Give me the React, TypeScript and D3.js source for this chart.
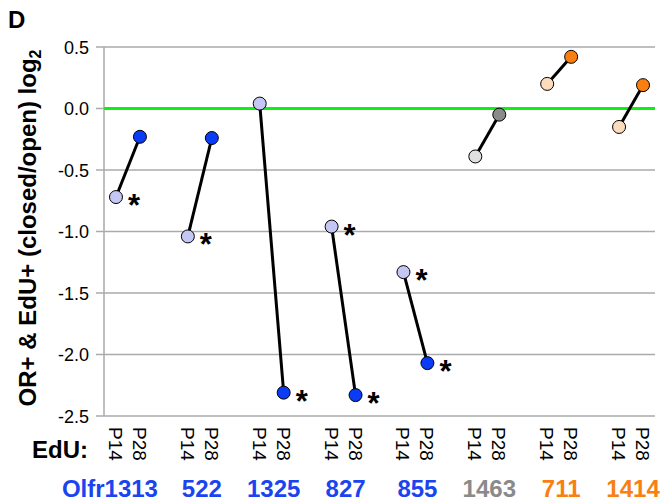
import React from "react";
import * as d3 from "d3";

const groups = ["Olfr1313", "522", "1325", "827", "855", "1463", "711", "1414"];
const p14Values = [-0.72, -1.04, 0.04, -0.96, -1.33, -0.39, 0.20, -0.15];
const p28Values = [-0.23, -0.24, -2.31, -2.33, -2.07, -0.05, 0.42, 0.19];
const starP14 = [true, true, false, true, true, false, false, false];
const starP28 = [false, false, true, true, true, false, false, false];
const groupColor = ["blue", "blue", "blue", "blue", "blue", "gray", "orange", "orange"];
const yTicks = [0.5, 0.0, -0.5, -1.0, -1.5, -2.0, -2.5];
const timeLabels = ["P14", "P28"];

const palette: Record<string, { p14: string; p28: string; label: string }> = {
  blue: { p14: "#c4c6f4", p28: "#0a3cf5", label: "#1a44f0" },
  gray: { p14: "#e0e0e0", p28: "#8a8a8a", label: "#8a8a8a" },
  orange: { p14: "#fddcbc", p28: "#f97f12", label: "#f97f12" },
};

const W = 661, H = 502;
const left = 104, right = 655, top = 47, bottom = 416;

export default function App() {
  const y = d3.scaleLinear().domain([-2.5, 0.5]).range([bottom, top]);
  const slots = d3.range(23).map(String);
  const x = d3.scaleBand().domain(slots).range([left, right]).paddingInner(0).paddingOuter(0);
  const cx = (g: number, t: number) => (x(String(g * 3 + t)) as number) + x.bandwidth() / 2;
  const font = "'Liberation Sans', Arial, sans-serif";
  return (
    <svg width={W} height={H} style={{ position: "absolute", left: 0, top: 0 }} fontFamily={font}>
      <rect width={W} height={H} fill="#fff" />
      <text x={8} y={28} fontSize={24} fontWeight="bold">D</text>
      {yTicks.map((t) => (
        <g key={t}>
          <line x1={left - 8} x2={right} y1={y(t)} y2={y(t)} stroke="#aaa" strokeWidth={1.5} />
          <text x={89} y={y(t) + 6.5} fontSize={18} textAnchor="end">{t.toFixed(1)}</text>
        </g>
      ))}
      <line x1={left} x2={left} y1={top} y2={bottom} stroke="#aaa" strokeWidth={1.5} />
      <line x1={left} x2={right} y1={y(0)} y2={y(0)} stroke="#11ee11" strokeWidth={3} />
      <text transform={`translate(36,228) rotate(-90)`} fontSize={24} fontWeight="bold" textAnchor="middle">
        OR+ &amp; EdU+ (closed/open) log<tspan fontSize={16} dy={5}>2</tspan>
      </text>
      {groups.map((g, i) => {
        const c = palette[groupColor[i]];
        const x1 = cx(i, 0), x2 = cx(i, 1);
        const y1 = y(p14Values[i]), y2 = y(p28Values[i]);
        const mid = (x1 + x2) / 2 + 2;
        const isLong = g.length > 5;
        return (
          <g key={g}>
            <line x1={x1} y1={y1} x2={x2} y2={y2} stroke="#000" strokeWidth={3} />
            <circle cx={x1} cy={y1} r={6.5} fill={c.p14} stroke="#000" strokeWidth={1} />
            <circle cx={x2} cy={y2} r={6.5} fill={c.p28} stroke="#000" strokeWidth={1} />
            {starP14[i] && <text x={x1 + 12} y={y1 + 19} fontSize={31} fontWeight="bold">*</text>}
            {starP28[i] && <text x={x2 + 12} y={y2 + 19} fontSize={31} fontWeight="bold">*</text>}
            {timeLabels.map((tl, t) => (
              <text key={tl} transform={`translate(${cx(i, t) - 7},427) rotate(90)`} fontSize={19}>{tl}</text>
            ))}
            <text x={isLong ? mid + 28 : mid} y={497} fontSize={24} fontWeight="bold" fill={c.label}
              textAnchor={isLong ? "end" : "middle"}>{g}</text>
          </g>
        );
      })}
      <text x={88} y={458} fontSize={24} fontWeight="bold" textAnchor="end">EdU:</text>
    </svg>
  );
}
